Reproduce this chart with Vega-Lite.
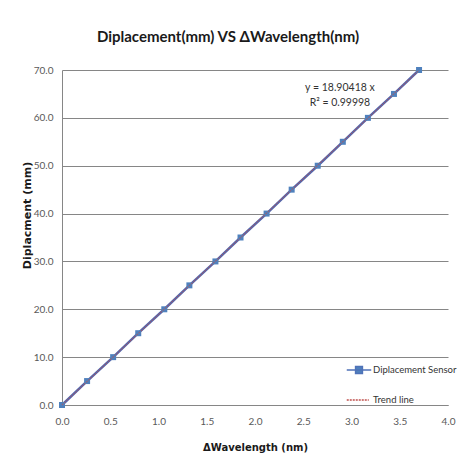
{
  "$schema": "https://vega.github.io/schema/vega-lite/v6.json",
  "autosize": "none",
  "width": 386,
  "height": 335,
  "padding": {"left": 62, "top": 70, "right": 16, "bottom": 64},
  "background": "white",
  "title": {
    "text": "Diplacement(mm)  VS  ΔWavelength(nm)",
    "font": "Lato",
    "fontSize": 15,
    "fontWeight": "bold",
    "color": "#1a1a1a",
    "anchor": "middle",
    "dx": -27,
    "offset": 20
  },
  "config": {
    "view": {"stroke": null},
    "axis": {
      "labelFont": "Lato",
      "labelFontSize": 10,
      "labelColor": "#595959",
      "labelFlush": false,
      "titleFont": "DejaVu Sans",
      "titleFontWeight": "bold",
      "titleColor": "#1a1a1a",
      "domainColor": "#868686",
      "gridColor": "#868686",
      "ticks": false
    },
    "legend": {
      "labelFont": "Lato",
      "labelFontSize": 9.5,
      "labelColor": "#333333"
    }
  },
  "datasets": {
    "sensor": [
      {"wl": 0.0, "disp": 0, "series": "Diplacement Sensor"},
      {"wl": 0.26, "disp": 5, "series": "Diplacement Sensor"},
      {"wl": 0.53, "disp": 10, "series": "Diplacement Sensor"},
      {"wl": 0.79, "disp": 15, "series": "Diplacement Sensor"},
      {"wl": 1.06, "disp": 20, "series": "Diplacement Sensor"},
      {"wl": 1.32, "disp": 25, "series": "Diplacement Sensor"},
      {"wl": 1.59, "disp": 30, "series": "Diplacement Sensor"},
      {"wl": 1.85, "disp": 35, "series": "Diplacement Sensor"},
      {"wl": 2.12, "disp": 40, "series": "Diplacement Sensor"},
      {"wl": 2.38, "disp": 45, "series": "Diplacement Sensor"},
      {"wl": 2.65, "disp": 50, "series": "Diplacement Sensor"},
      {"wl": 2.91, "disp": 55, "series": "Diplacement Sensor"},
      {"wl": 3.17, "disp": 60, "series": "Diplacement Sensor"},
      {"wl": 3.44, "disp": 65, "series": "Diplacement Sensor"},
      {"wl": 3.70, "disp": 70, "series": "Diplacement Sensor"}
    ],
    "trend": [
      {"wl": 0.0, "disp": 0, "series": "Trend line"},
      {"wl": 3.70, "disp": 69.95, "series": "Trend line"}
    ],
    "eq": [
      {"wl": 2.88, "disp": 66.3, "label": "y = 18.90418 x"},
      {"wl": 2.88, "disp": 63.2, "label": "R² = 0.99998"}
    ]
  },
  "encoding": {
    "x": {
      "field": "wl", "type": "quantitative",
      "scale": {"domain": [0, 4], "nice": false},
      "axis": {"values": [0, 0.5, 1, 1.5, 2, 2.5, 3, 3.5, 4], "format": ".1f", "grid": false, "labelPadding": 11, "title": "ΔWavelength (nm)", "titleFontSize": 10, "titlePadding": 16}
    },
    "y": {
      "field": "disp", "type": "quantitative",
      "scale": {"domain": [0, 70], "nice": false},
      "axis": {"values": [0, 10, 20, 30, 40, 50, 60, 70], "format": ".1f", "grid": true, "labelPadding": 9, "title": "Diplacment (mm)", "titleFontSize": 11, "titlePadding": 1, "titleY": 145}
    }
  },
  "layer": [
    {
      "data": {"name": "sensor"},
      "mark": {"type": "line", "strokeWidth": 2.5, "color": "#5068B0", "point": {"shape": "square", "filled": true, "size": 36, "color": "#4F81BD"}}
    },
    {
      "data": {"name": "trend"},
      "mark": {"type": "line", "strokeWidth": 1.2, "opacity": 0.6, "color": "#C0504D", "strokeDash": [2, 1]}
    },
    {
      "data": {"name": "sensor"},
      "mark": {"type": "point", "filled": false, "opacity": 0, "strokeWidth": 2.5},
      "encoding": {
        "color": {"field": "series", "type": "nominal",
          "scale": {"domain": ["Diplacement Sensor", "Trend line"], "range": ["#4F72B8", "#C0504D"]},
          "legend": {"title": null, "orient": "none", "legendX": 284, "legendY": 287, "symbolSize": 600, "symbolOpacity": 1, "rowPadding": 10, "labelOffset": 1}
        },
        "fill": {"field": "series", "type": "nominal",
          "scale": {"domain": ["Diplacement Sensor", "Trend line"], "range": ["#4F81BD", "#C0504D"]},
          "legend": {"title": null, "orient": "none", "legendX": 284, "legendY": 287, "symbolSize": 600, "symbolOpacity": 1, "rowPadding": 10, "labelOffset": 1}
        },
        "shape": {"field": "series", "type": "nominal",
          "scale": {"domain": ["Diplacement Sensor", "Trend line"], "range": ["M-1,0H1M-0.28,-0.28H0.28V0.28H-0.28Z", "M-1,0H0.8"]},
          "legend": {"title": null, "orient": "none", "legendX": 284, "legendY": 287, "symbolSize": 600, "symbolOpacity": 1, "rowPadding": 10, "labelOffset": 1}
        },
        "strokeDash": {"field": "series", "type": "nominal",
          "scale": {"domain": ["Diplacement Sensor", "Trend line"], "range": [[1, 0], [2, 1]]},
          "legend": {"title": null, "orient": "none", "legendX": 284, "legendY": 287, "symbolSize": 600, "symbolOpacity": 1, "rowPadding": 10, "labelOffset": 1}
        }
      }
    },
    {
      "data": {"name": "eq"},
      "mark": {"type": "text", "font": "Lato", "fontSize": 10.5, "color": "#333333", "align": "center"},
      "encoding": {"text": {"field": "label"}}
    }
  ]
}
